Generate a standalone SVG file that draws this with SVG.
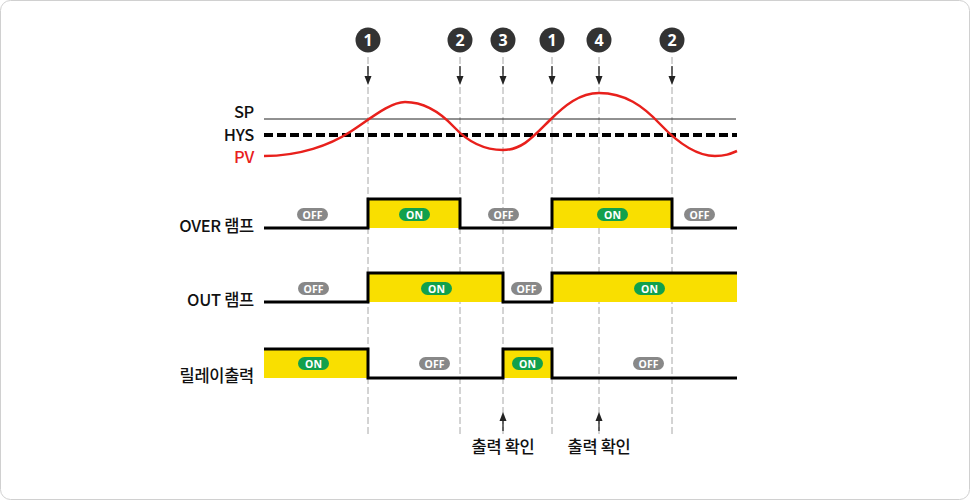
<svg xmlns="http://www.w3.org/2000/svg" width="970" height="500" viewBox="0 0 970 500">
<defs>
<style>
.lbl{font-family:"Noto Sans CJK KR","Noto Sans",sans-serif;font-size:16.5px;font-weight:500;fill:#111;letter-spacing:-0.3px}
.num{font-family:"Noto Sans","Liberation Sans",sans-serif;font-size:16px;font-weight:700;fill:#fff}
.pill{font-family:"Noto Sans","Liberation Sans",sans-serif;font-size:10.5px;font-weight:700;fill:#fff}
.vd{stroke:#a8a8a8;stroke-width:1;stroke-dasharray:7 3;fill:none}
.sig{stroke:#000;stroke-width:3;fill:none;stroke-linejoin:miter}
.fill{fill:#f9df00}
.off{fill:#888}
.on{fill:#11a04c}
.arr{fill:#222}
</style>
</defs>
<rect x="0.5" y="0.5" width="969" height="499" rx="10" fill="#fff" stroke="#d0d0d0"/>

<g id="guides">
<line class="vd" x1="368" y1="57" x2="368" y2="434"/>
<line class="vd" x1="460" y1="57" x2="460" y2="434"/>
<line class="vd" x1="503" y1="57" x2="503" y2="434"/>
<line class="vd" x1="552" y1="57" x2="552" y2="434"/>
<line class="vd" x1="599" y1="57" x2="599" y2="434"/>
<line class="vd" x1="672" y1="57" x2="672" y2="434"/>
</g>

<g id="markers">
<g id="m1a"><circle cx="368" cy="40" r="12.5" fill="#333"/><text class="num" x="368" y="45.8" text-anchor="middle">1</text></g>
<g id="m2a"><circle cx="460" cy="40" r="12.5" fill="#333"/><text class="num" x="460" y="45.8" text-anchor="middle">2</text></g>
<g id="m3"><circle cx="503" cy="40" r="12.5" fill="#333"/><text class="num" x="503" y="45.8" text-anchor="middle">3</text></g>
<g id="m1b"><circle cx="552" cy="40" r="12.5" fill="#333"/><text class="num" x="552" y="45.8" text-anchor="middle">1</text></g>
<g id="m4"><circle cx="599" cy="40" r="12.5" fill="#333"/><text class="num" x="599" y="45.8" text-anchor="middle">4</text></g>
<g id="m2b"><circle cx="672" cy="40" r="12.5" fill="#333"/><text class="num" x="672" y="45.8" text-anchor="middle">2</text></g>
</g>

<g id="connectors">
<g stroke="#222" stroke-width="1.3">
<line x1="368" y1="66" x2="368" y2="78"/>
<line x1="460" y1="66" x2="460" y2="78"/>
<line x1="503" y1="66" x2="503" y2="78"/>
<line x1="552" y1="66" x2="552" y2="78"/>
<line x1="599" y1="66" x2="599" y2="78"/>
<line x1="672" y1="66" x2="672" y2="78"/>
<line x1="503" y1="419" x2="503" y2="431"/>
<line x1="599" y1="419" x2="599" y2="431"/>
</g>
<polygon class="arr" points="364.5,76 371.5,76 368,85"/>
<polygon class="arr" points="456.5,76 463.5,76 460,85"/>
<polygon class="arr" points="499.5,76 506.5,76 503,85"/>
<polygon class="arr" points="548.5,76 555.5,76 552,85"/>
<polygon class="arr" points="595.5,76 602.5,76 599,85"/>
<polygon class="arr" points="668.5,76 675.5,76 672,85"/>
<polygon class="arr" points="499.5,421 506.5,421 503,412"/>
<polygon class="arr" points="595.5,421 602.5,421 599,412"/>
</g>

<g id="pv-chart">
<line x1="264" y1="119" x2="736" y2="119" stroke="#222" stroke-width="1"/>
<line x1="264" y1="135" x2="737" y2="135" stroke="#000" stroke-width="4" stroke-dasharray="9 4"/>
<path d="M264,156 C300,156 330,145 350,132 S390,102 405,102 C425,102 440,112 454,127 S485,150 503,150 C522,150 533,137 549,121 S580,93 599,93 C625,93 643,106 660,124 S695,156 715,156 C725,156 730,154 737,151" fill="none" stroke="#e8201c" stroke-width="2.5"/>
<text class="lbl" x="254" y="118" text-anchor="end">SP</text>
<text class="lbl" x="254" y="141" text-anchor="end">HYS</text>
<text class="lbl" x="254" y="163" text-anchor="end" style="fill:#e8201c">PV</text>
</g>

<g id="over-lamp">
<rect class="fill" x="368" y="199" width="92" height="29"/>
<rect class="fill" x="552" y="199" width="120" height="29"/>
<path class="sig" d="M264,228 H368 V199 H460 V228 H552 V199 H672 V228 H737"/>
<text class="lbl" x="254" y="232" text-anchor="end">OVER 램프</text>
<rect class="off" x="297" y="208" width="31" height="13" rx="6.5"/><text class="pill" x="312.5" y="218.5" text-anchor="middle">OFF</text>
<rect class="on" x="399" y="208" width="31" height="13" rx="6.5"/><text class="pill" x="414.5" y="218.5" text-anchor="middle">ON</text>
<rect class="off" x="488" y="208" width="31" height="13" rx="6.5"/><text class="pill" x="503.5" y="218.5" text-anchor="middle">OFF</text>
<rect class="on" x="597" y="208" width="31" height="13" rx="6.5"/><text class="pill" x="612.5" y="218.5" text-anchor="middle">ON</text>
<rect class="off" x="684" y="208" width="31" height="13" rx="6.5"/><text class="pill" x="699.5" y="218.5" text-anchor="middle">OFF</text>
</g>

<g id="out-lamp">
<rect class="fill" x="368" y="273" width="135" height="29"/>
<rect class="fill" x="552" y="273" width="185" height="29"/>
<path class="sig" d="M264,302 H368 V273 H503 V302 H552 V273 H737"/>
<text class="lbl" x="254" y="306" text-anchor="end">OUT 램프</text>
<rect class="off" x="298" y="282" width="31" height="13" rx="6.5"/><text class="pill" x="313.5" y="292.5" text-anchor="middle">OFF</text>
<rect class="on" x="421" y="282" width="31" height="13" rx="6.5"/><text class="pill" x="436.5" y="292.5" text-anchor="middle">ON</text>
<rect class="off" x="511" y="282" width="31" height="13" rx="6.5"/><text class="pill" x="526.5" y="292.5" text-anchor="middle">OFF</text>
<rect class="on" x="634" y="282" width="31" height="13" rx="6.5"/><text class="pill" x="649.5" y="292.5" text-anchor="middle">ON</text>
</g>

<g id="relay-output">
<rect class="fill" x="264" y="349" width="104" height="29"/>
<rect class="fill" x="503" y="349" width="49" height="29"/>
<path class="sig" d="M264,349 H368 V378 H503 V349 H552 V378 H737"/>
<text class="lbl" x="254" y="382" text-anchor="end">릴레이출력</text>
<rect class="on" x="298" y="357" width="31" height="13" rx="6.5"/><text class="pill" x="313.5" y="367.5" text-anchor="middle">ON</text>
<rect class="off" x="419" y="357" width="31" height="13" rx="6.5"/><text class="pill" x="434.5" y="367.5" text-anchor="middle">OFF</text>
<rect class="on" x="512" y="357" width="31" height="13" rx="6.5"/><text class="pill" x="527.5" y="367.5" text-anchor="middle">ON</text>
<rect class="off" x="633" y="357" width="31" height="13" rx="6.5"/><text class="pill" x="648.5" y="367.5" text-anchor="middle">OFF</text>
</g>

<g id="check-labels">
<text class="lbl" x="503" y="453" text-anchor="middle">출력 확인</text>
<text class="lbl" x="599" y="453" text-anchor="middle">출력 확인</text>
</g>
</svg>
